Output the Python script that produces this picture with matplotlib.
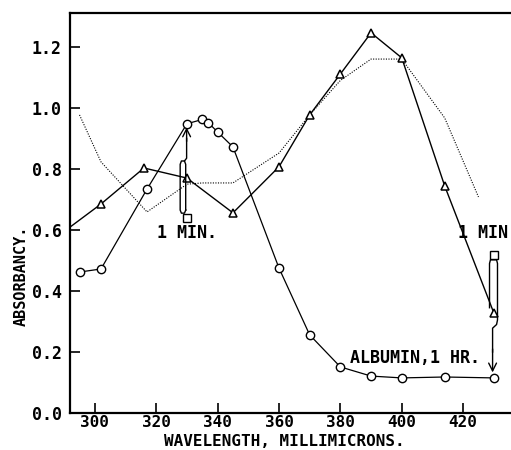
import matplotlib
matplotlib.use("Agg")
import matplotlib.pyplot as plt

# albumin, 1 hr (circles)
alb_x = [295, 302, 317, 330, 335, 337, 340, 345, 360, 370, 380, 390, 400, 414, 430]
alb_y = [0.462, 0.472, 0.734, 0.948, 0.962, 0.951, 0.921, 0.872, 0.475, 0.256, 0.151, 0.121, 0.115, 0.118, 0.115]

# 1 min (triangles)
tri_x = [288, 302, 316, 330, 345, 360, 370, 380, 390, 400, 414, 430]
tri_y = [0.58, 0.685, 0.803, 0.770, 0.656, 0.807, 0.977, 1.111, 1.246, 1.164, 0.744, 0.328]

# dotted curve
dot_x = [295, 302, 317, 330, 335, 345, 360, 370, 380, 390, 400, 414, 425]
dot_y = [0.977, 0.823, 0.659, 0.75, 0.754, 0.754, 0.852, 0.977, 1.09, 1.16, 1.16, 0.967, 0.708]

# squares
sq_x = [330, 430]
sq_y = [0.639, 0.518]

xticks = [300, 320, 340, 360, 380, 400, 420]
yticks = [0.0, 0.2, 0.4, 0.6, 0.8, 1.0, 1.2]

font = dict(family="DejaVu Sans Mono", weight="bold")

fig = plt.figure(figsize=(5.11, 4.5), dpi=100)
ax = fig.add_axes([70 / 511, 37 / 450, 441 / 511, 400 / 450])

ax.plot(dot_x, dot_y, color="black", lw=0.8, ls=(0, (1, 1.3)))
ax.plot(tri_x, tri_y, color="black", lw=1.0, marker="^", ms=6,
        mfc="white", mec="black", mew=1.1)
ax.plot(alb_x, alb_y, color="black", lw=0.9, marker="o", ms=6,
        mfc="white", mec="black", mew=1.0)
ax.plot(sq_x, sq_y, ls="none", marker="s", ms=5.5, mfc="white", mec="black", mew=1.0)

# brace + arrow at 330 (square up to circle)
bx = [329.6, 329.6, 329.2, 328.2, 327.8, 327.8, 328.2, 329.2, 329.6]
by = [0.665, 0.815, 0.826, 0.826, 0.815, 0.665, 0.655, 0.655, 0.665]
ax.plot(bx, by, color="black", lw=1.0)
ax.plot([329.2, 329.9, 329.9], [0.826, 0.835, 0.90], color="black", lw=1.0)
ax.annotate("", xy=(329.9, 0.936), xytext=(329.9, 0.89),
            arrowprops=dict(arrowstyle="->", color="black", lw=1.0,
                            mutation_scale=14, shrinkA=0, shrinkB=0))

# brace + arrow at 430 (square down to circle)
bx2 = [428.6, 428.6, 428.9, 430.9, 431.2, 431.2, 430.9, 429.6, 429.6]
by2 = [0.345, 0.49, 0.502, 0.502, 0.49, 0.305, 0.29, 0.278, 0.20]
ax.plot(bx2, by2, color="black", lw=1.0)
ax.annotate("", xy=(429.6, 0.133), xytext=(429.6, 0.21),
            arrowprops=dict(arrowstyle="->", color="black", lw=1.0,
                            mutation_scale=14, shrinkA=0, shrinkB=0))

ax.text(320.2, 0.59, "1 MIN.", fontsize=12, va="center", ha="left", **font)
ax.text(418.4, 0.59, "1 MIN", fontsize=12, va="center", ha="left", **font)
ax.text(383.1, 0.18, "ALBUMIN,1 HR.", fontsize=12, va="center", ha="left", **font)

ax.set_xlim(291.9, 435.6)
ax.set_ylim(0, 1.311)
ax.set_xticks(xticks)
ax.set_yticks(yticks)
ax.set_xticklabels([str(t) for t in xticks], fontsize=11.5, **font)
ax.set_yticklabels(["%.1f" % t for t in yticks], fontsize=12, **font)
ax.tick_params(direction="in", length=7, width=1.2, pad=1.5)
ax.tick_params(axis="y", pad=6)
ax.spines["right"].set_visible(False)
for s in ["left", "top", "bottom"]:
    ax.spines[s].set_linewidth(1.6)

fig.text(284.5 / 511, 1 - 442 / 450, "WAVELENGTH, MILLIMICRONS.", fontsize=11.5,
         ha="center", va="center", **font)
fig.text(21.5 / 511, 1 - 276 / 450, "ABSORBANCY.", fontsize=11, rotation=90,
         ha="center", va="center", **font)

fig.savefig("out.png", dpi=100)
